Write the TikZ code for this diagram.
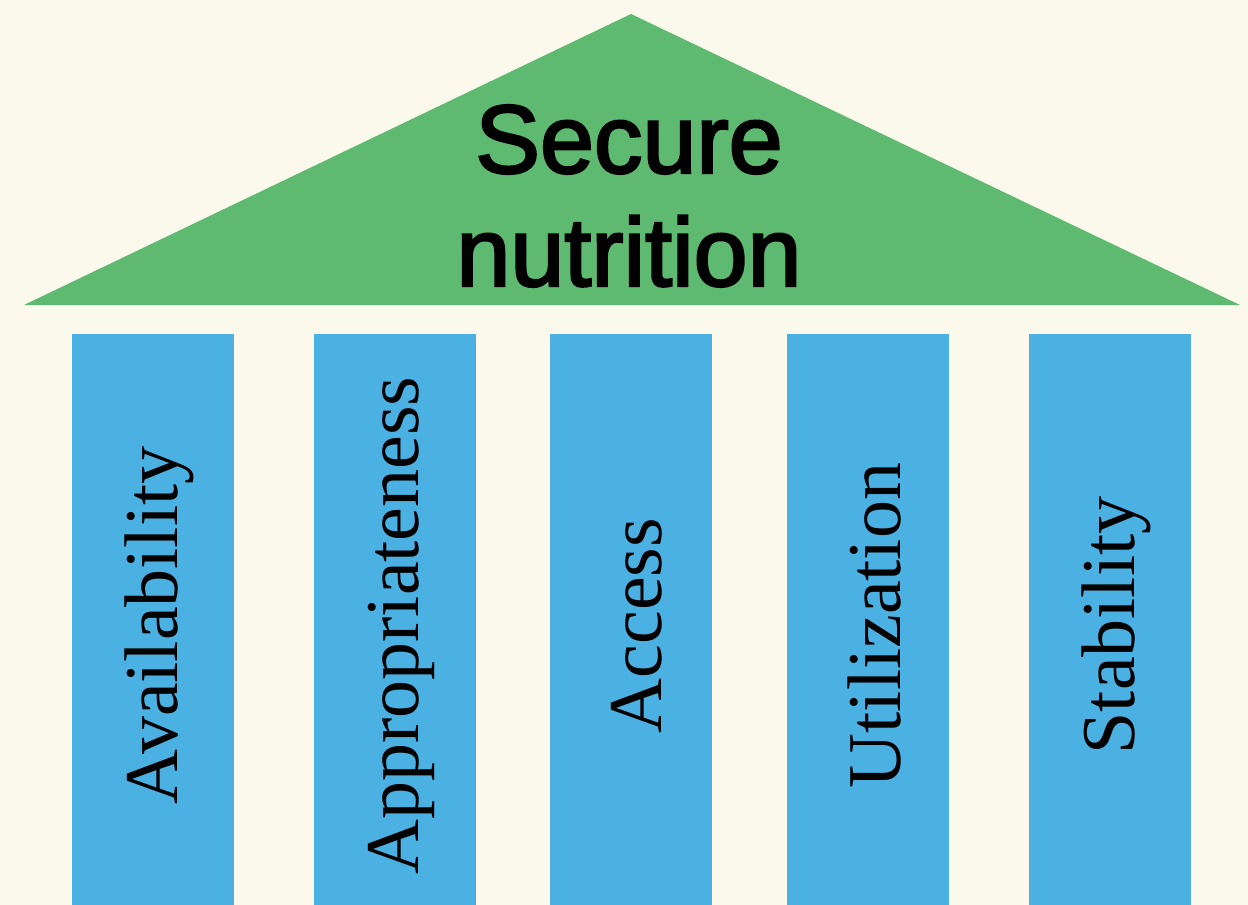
\documentclass[tikz,border=0pt]{standalone}
\usepackage{fontspec}
\usepackage{tikz}
\usetikzlibrary{positioning}
\newfontfamily\roofface[FakeBold=2.5]{Liberation Sans}
\newfontfamily\pillarface{Liberation Serif}
\definecolor{paper}{HTML}{FBF9EB}
\definecolor{roofgreen}{HTML}{5EBA70}
\definecolor{pillarblue}{HTML}{4BB1E3}
\tikzset{pillar/.style={fill=pillarblue,minimum width=162pt,minimum height=571pt,inner sep=0pt},
pillartext/.style={rotate=90,inner sep=0pt,font=\pillarface\fontsize{76}{80}\selectfont}}

\begin{document}
\begin{tikzpicture}[x=1pt,y=-1pt]
\fill[paper] (0,0) rectangle (1248,905);
\useasboundingbox (0,0) rectangle (1248,905);
\fill[roofgreen] (24,305) -- (631,14) -- (1240,305) -- cycle;
\node[align=center,font=\roofface\fontsize{97}{113}\selectfont] (roof) at (629,196) {Secure\\nutrition};
% pillars
\node[pillar] (avail) at (153,619.5) {};
\node[pillar] (approp) at (395,619.5) {};
\node[pillar] (access) at (631,619.5) {};
\node[pillar] (util) at (868,619.5) {};
\node[pillar] (stab) at (1110,619.5) {};
\node[pillartext] (availtext) at ([shift={(6,6)}]avail.center) {Availability};
\node[pillartext] (approptext) at ([shift={(6,6)}]approp.center) {Appropriateness};
\node[pillartext] (accesstext) at ([shift={(6,6)}]access.center) {Access};
\node[pillartext] (utiltext) at ([shift={(6,6)}]util.center) {Utilization};
\node[pillartext] (stabtext) at ([shift={(6,6)}]stab.center) {Stability};
\end{tikzpicture}
\end{document}
